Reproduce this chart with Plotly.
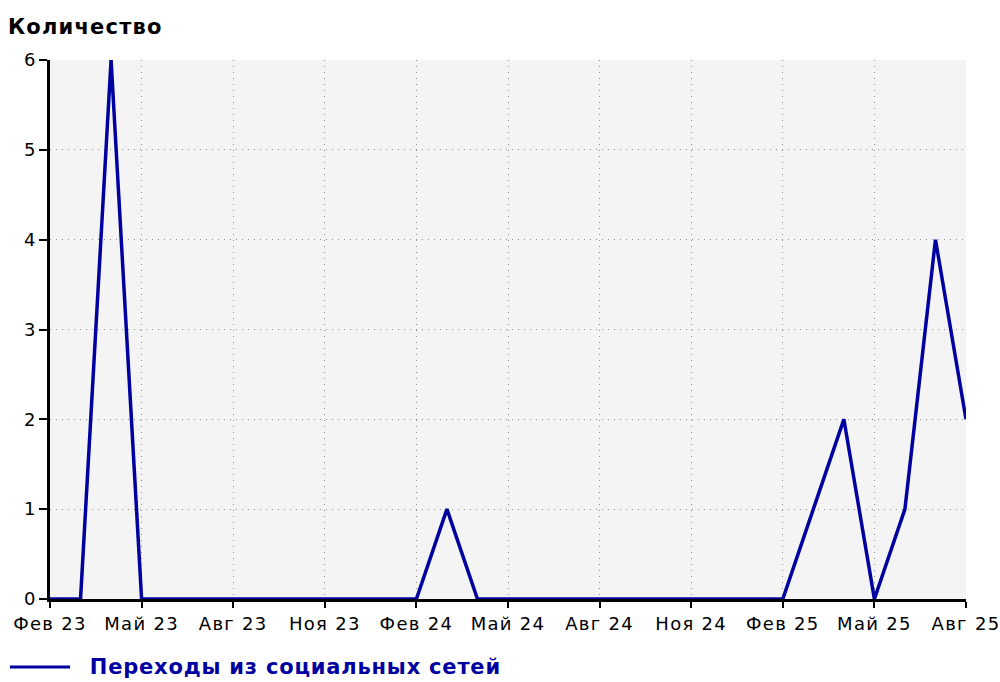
import plotly.graph_objects as go

months = ["Фев 23", "Мар 23", "Апр 23", "Май 23", "Июн 23", "Июл 23", "Авг 23", "Сен 23",
          "Окт 23", "Ноя 23", "Дек 23", "Янв 24", "Фев 24", "Мар 24", "Апр 24", "Май 24",
          "Июн 24", "Июл 24", "Авг 24", "Сен 24", "Окт 24", "Ноя 24", "Дек 24", "Янв 25",
          "Фев 25", "Мар 25", "Апр 25", "Май 25", "Июн 25", "Июл 25", "Авг 25"]
social = [0, 0, 6, 0, 0, 0, 0, 0, 0, 0, 0, 0, 0, 1, 0, 0, 0, 0, 0, 0, 0, 0, 0, 0,
          0, 1, 2, 0, 1, 4, 2]
series_name = "Переходы из социальных сетей"
y_title = "Количество"
y_ticks = [0, 1, 2, 3, 4, 5, 6]

x_idx = list(range(len(months)))
tick_idx = x_idx[::3]
tick_txt = [months[i] for i in tick_idx]

LINE = "#0000a0"
FONT = "DejaVu Sans"

fig = go.Figure()
fig.add_trace(go.Scatter(x=x_idx, y=social, mode="lines", name=series_name,
                         line=dict(color=LINE, width=3.5), showlegend=False,
                         cliponaxis=False))

W, H = 1000, 682
ml, mt, mr, mb = 50, 60, 34, 83
pw, ph = W - ml - mr, H - mt - mb

fig.update_layout(
    width=W, height=H,
    margin=dict(l=ml, r=mr, t=mt, b=mb, autoexpand=False),
    paper_bgcolor="white", plot_bgcolor="#f4f4f4",
    font=dict(family=FONT, size=18, color="black"),
    title=dict(text="<b>" + y_title + "</b>", x=8 / W, xanchor="left",
               y=1 - 27 / H, yanchor="middle",
               font=dict(family=FONT, size=21, color="black")),
    xaxis=dict(range=[0, len(months) - 1], tickmode="array", tickvals=tick_idx,
               ticktext=tick_txt, showgrid=True, gridcolor="#909090",
               griddash="1px,5px", gridwidth=1, showline=True, linecolor="black",
               linewidth=3, ticks="outside", ticklen=6, tickwidth=2,
               tickcolor="black", zeroline=False, ticklabeloverflow="allow",
               automargin=False,
               tickfont=dict(family=FONT, size=18, color="black")),
    yaxis=dict(range=[0, 6], tickmode="array", tickvals=y_ticks, showgrid=True,
               gridcolor="#909090", griddash="1px,5px", gridwidth=1,
               showline=True, linecolor="black", linewidth=3, ticks="outside",
               ticklen=8, tickwidth=2, tickcolor="black", zeroline=False,
               automargin=False,
               tickfont=dict(family=FONT, size=18, color="black")),
)

# legend drawn below the plot
leg_y = (599 - 667) / ph
fig.add_shape(type="line", xref="paper", yref="paper",
              x0=(10 - ml) / pw, x1=(70 - ml) / pw, y0=leg_y, y1=leg_y,
              line=dict(color=LINE, width=3))
fig.add_annotation(xref="paper", yref="paper", x=(99 - ml) / pw, y=leg_y,
                   xanchor="left", yanchor="middle", showarrow=False,
                   text="<b>" + series_name + "</b>",
                   font=dict(family=FONT, size=21, color=LINE))

post = """
document.body.style.margin = '0';
var st = document.createElement('style');
st.textContent = '.xtick text{letter-spacing:1.3px}' +
  '.gtitle{letter-spacing:1.2px}' +
  '.annotation-text{letter-spacing:0.8px}';
document.head.appendChild(st);
"""
fig.write_html("out.html", post_script=post, config={"displayModeBar": False})
